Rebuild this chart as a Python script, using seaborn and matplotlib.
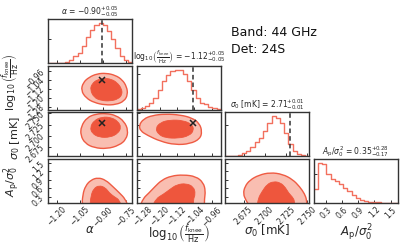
import matplotlib.pyplot as plt
import numpy as np
import pandas as pd
import seaborn as sns
from matplotlib.path import Path
from matplotlib.patches import PathPatch

# === Parameters of the corner plot ===
labels = [
    r"$\alpha$",
    r"$\log_{10}\left(\frac{f_{\rm knee}}{\rm Hz}\right)$",
    r"$\sigma_0$ [mK]",
    r"$A_{\rm p}/\sigma_0^2$",
]
medians = ["-0.90", "-1.12", "2.71", "0.35"]
err_up = ["0.05", "0.05", "0.01", "0.28"]
err_lo = ["0.05", "0.05", "0.01", "0.17"]
truths = [-0.905, -1.045, 2.729, None]
ranges = [(-1.257, -0.706), (-1.306, -0.917), (2.6532, 2.7524), (0.07, 1.638)]
tick_values = [
    [-1.20, -1.05, -0.90, -0.75],
    [-1.28, -1.20, -1.12, -1.04, -0.96],
    [2.675, 2.700, 2.725, 2.750],
    [0.3, 0.6, 0.9, 1.2, 1.5],
]

# === 1D marginals (20 bins over each range) ===
alpha_counts = [0, 0, 1, 1, 3, 8, 20, 30, 50, 78, 98, 115, 120, 115, 95, 72, 45, 22, 10, 4]
log_counts = [1, 5, 10, 20, 35, 57, 83, 100, 113, 117, 115, 103, 83, 57, 35, 20, 15, 7, 5, 2]
sigma_counts = [1, 1, 2, 5, 10, 17, 27, 42, 55, 75, 98, 119, 115, 100, 70, 38, 15, 6, 3, 2]
ap_counts = [40, 118, 115, 85, 72, 65, 57, 45, 35, 25, 15, 10, 6, 4, 3, 2, 1, 1, 0.5, 0.5]
hist_counts = [alpha_counts, log_counts, sigma_counts, ap_counts]
hist_ytick = [71, 105, 93, 87]

# === 2D credible regions (outer / inner contour outlines) ===
# alpha vs log10(fknee)
a_l_outer_x = [-1.041, -1.028, -0.989, -0.936, -0.877, -0.818, -0.772, -0.743, -0.736, -0.759, -0.812, -0.884, -0.956, -1.008]
a_l_outer_y = [-1.138, -1.067, -1.019, -0.988, -0.983, -1.001, -1.041, -1.103, -1.173, -1.231, -1.262, -1.266, -1.244, -1.204]
a_l_inner_x = [-0.982, -0.969, -0.936, -0.890, -0.844, -0.805, -0.776, -0.772, -0.799, -0.851, -0.910, -0.956]
a_l_inner_y = [-1.129, -1.076, -1.041, -1.028, -1.036, -1.067, -1.120, -1.173, -1.213, -1.231, -1.226, -1.200]
# alpha vs sigma0
a_s_outer_x = [-1.041, -1.002, -0.943, -0.877, -0.812, -0.759, -0.733, -0.746, -0.792, -0.871, -0.956, -1.015, -1.044]
a_s_outer_y = [2.7209, 2.7411, 2.7490, 2.7502, 2.7457, 2.7321, 2.7118, 2.6915, 2.6780, 2.6701, 2.6724, 2.6825, 2.7006]
a_s_inner_x = [-0.982, -0.956, -0.903, -0.844, -0.799, -0.779, -0.799, -0.851, -0.923, -0.969]
a_s_inner_y = [2.7186, 2.7344, 2.7423, 2.7411, 2.7321, 2.7186, 2.7051, 2.6960, 2.6960, 2.7051]
# alpha vs Ap
a_a_outer_x = [-1.036, -1.030, -1.012, -0.978, -0.930, -0.880, -0.834, -0.790, -0.752, -0.730, -0.880]
a_a_outer_y = [-0.10, 0.380, 0.680, 0.890, 0.980, 0.890, 0.660, 0.430, 0.213, -0.10, -0.20]
a_a_inner_x = [-0.984, -0.977, -0.958, -0.923, -0.882, -0.856, -0.823, -0.790, -0.776, -0.880]
a_a_inner_y = [-0.10, 0.330, 0.590, 0.700, 0.620, 0.430, 0.290, 0.180, -0.10, -0.20]
# log10(fknee) vs sigma0
l_s_outer_x = [-1.295, -1.274, -1.233, -1.173, -1.105, -1.050, -1.016, -1.004, -1.013, -1.059, -1.128, -1.196, -1.256, -1.288]
l_s_outer_y = [2.7231, 2.7378, 2.7457, 2.7490, 2.7468, 2.7400, 2.7276, 2.7096, 2.6927, 2.6814, 2.6791, 2.6870, 2.7006, 2.7107]
l_s_inner_x = [-1.219, -1.196, -1.151, -1.091, -1.050, -1.041, -1.064, -1.114, -1.173, -1.205]
l_s_inner_y = [2.7163, 2.7299, 2.7355, 2.7344, 2.7254, 2.7118, 2.6994, 2.6938, 2.6949, 2.7028]
# log10(fknee) vs Ap
l_a_outer_x = [-1.292, -1.276, -1.250, -1.222, -1.190, -1.146, -1.090, -1.032, -0.998, -0.988, -0.993, -0.993, -1.140]
l_a_outer_y = [-0.10, 0.230, 0.420, 0.650, 0.890, 1.040, 1.080, 1.020, 0.800, 0.500, 0.213, -0.10, -0.20]
l_a_inner_x = [-1.236, -1.216, -1.183, -1.152, -1.120, -1.077, -1.043, -1.034, -1.045, -1.041, -1.140]
l_a_inner_y = [-0.10, 0.230, 0.380, 0.560, 0.730, 0.770, 0.650, 0.400, 0.177, -0.10, -0.20]
# sigma0 vs Ap
s_a_outer_x = [2.6830, 2.6775, 2.6745, 2.6764, 2.6823, 2.6930, 2.7063, 2.7208, 2.7327, 2.7410, 2.7468, 2.7492, 2.7492, 2.7150]
s_a_outer_y = [-0.10, 0.177, 0.400, 0.660, 0.890, 1.070, 1.160, 1.100, 0.910, 0.650, 0.391, 0.177, -0.10, -0.20]
s_a_inner_x = [2.6908, 2.6920, 2.6966, 2.7026, 2.7099, 2.7183, 2.7243, 2.7278, 2.7325, 2.7350, 2.7350, 2.7130]
s_a_inner_y = [-0.10, 0.230, 0.480, 0.740, 0.840, 0.800, 0.620, 0.430, 0.284, 0.141, -0.10, -0.20]

contours = {
    (1, 0): (a_l_outer_x, a_l_outer_y, a_l_inner_x, a_l_inner_y),
    (2, 0): (a_s_outer_x, a_s_outer_y, a_s_inner_x, a_s_inner_y),
    (3, 0): (a_a_outer_x, a_a_outer_y, a_a_inner_x, a_a_inner_y),
    (2, 1): (l_s_outer_x, l_s_outer_y, l_s_inner_x, l_s_inner_y),
    (3, 1): (l_a_outer_x, l_a_outer_y, l_a_inner_x, l_a_inner_y),
    (3, 2): (s_a_outer_x, s_a_outer_y, s_a_inner_x, s_a_inner_y),
}

# === Styles ===
hist_color = "#f2705e"
outer_fill = "#f9beb1"
inner_fill = "#ee563d"
edge_color = "#ef5b43"
frame_color = "#333333"
ylabel_pos = [0.5, 0.62, 0.42, 0.5]


def smooth_path(xs, ys):
    # closed outline drawn with quadratic bezier segments through the read points
    pts = np.column_stack([xs, ys])
    nxt = np.roll(pts, -1, axis=0)
    mids = 0.5 * (pts + nxt)
    verts = [mids[-1]]
    codes = [Path.MOVETO]
    for k in range(len(pts)):
        verts += [pts[k], mids[k]]
        codes += [Path.CURVE3, Path.CURVE3]
    return Path(verts, codes)


sns.set_theme(style="ticks")
plt.rcParams["font.family"] = ["DejaVu Sans"]
plt.rcParams["mathtext.fontset"] = "dejavusans"
plt.rcParams["xtick.direction"] = "in"
plt.rcParams["ytick.direction"] = "in"

n = len(labels)
fig, axes = plt.subplots(n, n, figsize=(4.11, 2.47), dpi=100)
fig.subplots_adjust(left=0.1168, right=0.9684, bottom=0.1781, top=0.9231, wspace=0.05, hspace=0.065)

for i in range(n):
    for j in range(n):
        ax = axes[i, j]
        if j > i:
            ax.set_visible(False)
            continue
        for sp in ax.spines.values():
            sp.set_color(frame_color)
            sp.set_linewidth(1.0)
        ax.tick_params(length=2.5, width=0.7, color=frame_color, labelsize=5.5, pad=1.5)

        if i == j:
            counts = np.array(hist_counts[i], dtype=float)
            edges = np.linspace(ranges[i][0], ranges[i][1], len(counts) + 1)
            centers = 0.5 * (edges[1:] + edges[:-1])
            df = pd.DataFrame({"x": centers, "w": counts})
            sns.histplot(data=df, x="x", weights="w", bins=edges.tolist(), element="step",
                         fill=False, color=hist_color, linewidth=1.0, ax=ax)
            ax.set_ylim(0, 1.1 * counts.max())
            ax.set_yticks([hist_ytick[i]])
            ax.set_yticklabels([])
            if truths[i] is not None:
                ax.axvline(truths[i], color="#333333", ls="--", lw=1.1, dashes=(3, 2))
            title = f"{labels[i]} = ${medians[i]}^{{+{err_up[i]}}}_{{-{err_lo[i]}}}$"
            ax.set_title(title, fontsize=5.5, pad=2.5)
            ax.set_ylabel("")
        else:
            ox, oy, ix, iy = contours[(i, j)]
            ax.add_patch(PathPatch(smooth_path(ox, oy), facecolor=outer_fill,
                                   edgecolor=edge_color, lw=1.0))
            ax.add_patch(PathPatch(smooth_path(ix, iy), facecolor=inner_fill,
                                   edgecolor=inner_fill, lw=0.6))
            if truths[i] is not None and truths[j] is not None:
                ax.plot(truths[j], truths[i], marker="x", color="#222222", ms=5, mew=1.1)
            ax.set_ylim(*ranges[i])
            ax.set_yticks(tick_values[i])
            if j == 0:
                ax.yaxis.get_major_formatter().set_useOffset(False)
                ax.tick_params(axis="y", labelrotation=45)
                ax.set_ylabel(labels[i], fontsize=8)
                ax.yaxis.set_label_coords(-0.31, ylabel_pos[i])
            else:
                ax.set_yticklabels([])
                ax.set_ylabel("")

        ax.set_xlim(*ranges[j])
        ax.set_xticks(tick_values[j])
        if i == n - 1:
            ax.xaxis.get_major_formatter().set_useOffset(False)
            ax.tick_params(axis="x", labelrotation=45)
            ax.set_xlabel(labels[j], fontsize=8.5)
            ax.xaxis.set_label_coords(0.5, -0.45)
        else:
            ax.set_xticklabels([])
            ax.set_xlabel("")

fig.text(0.561, 1 - 35.5 / 247, "Band: 44 GHz", fontsize=9, va="baseline", color="#111111")
fig.text(0.561, 1 - 53 / 247, "Det: 24S", fontsize=9, va="baseline", color="#111111")

fig.savefig("out.png", dpi=100)
